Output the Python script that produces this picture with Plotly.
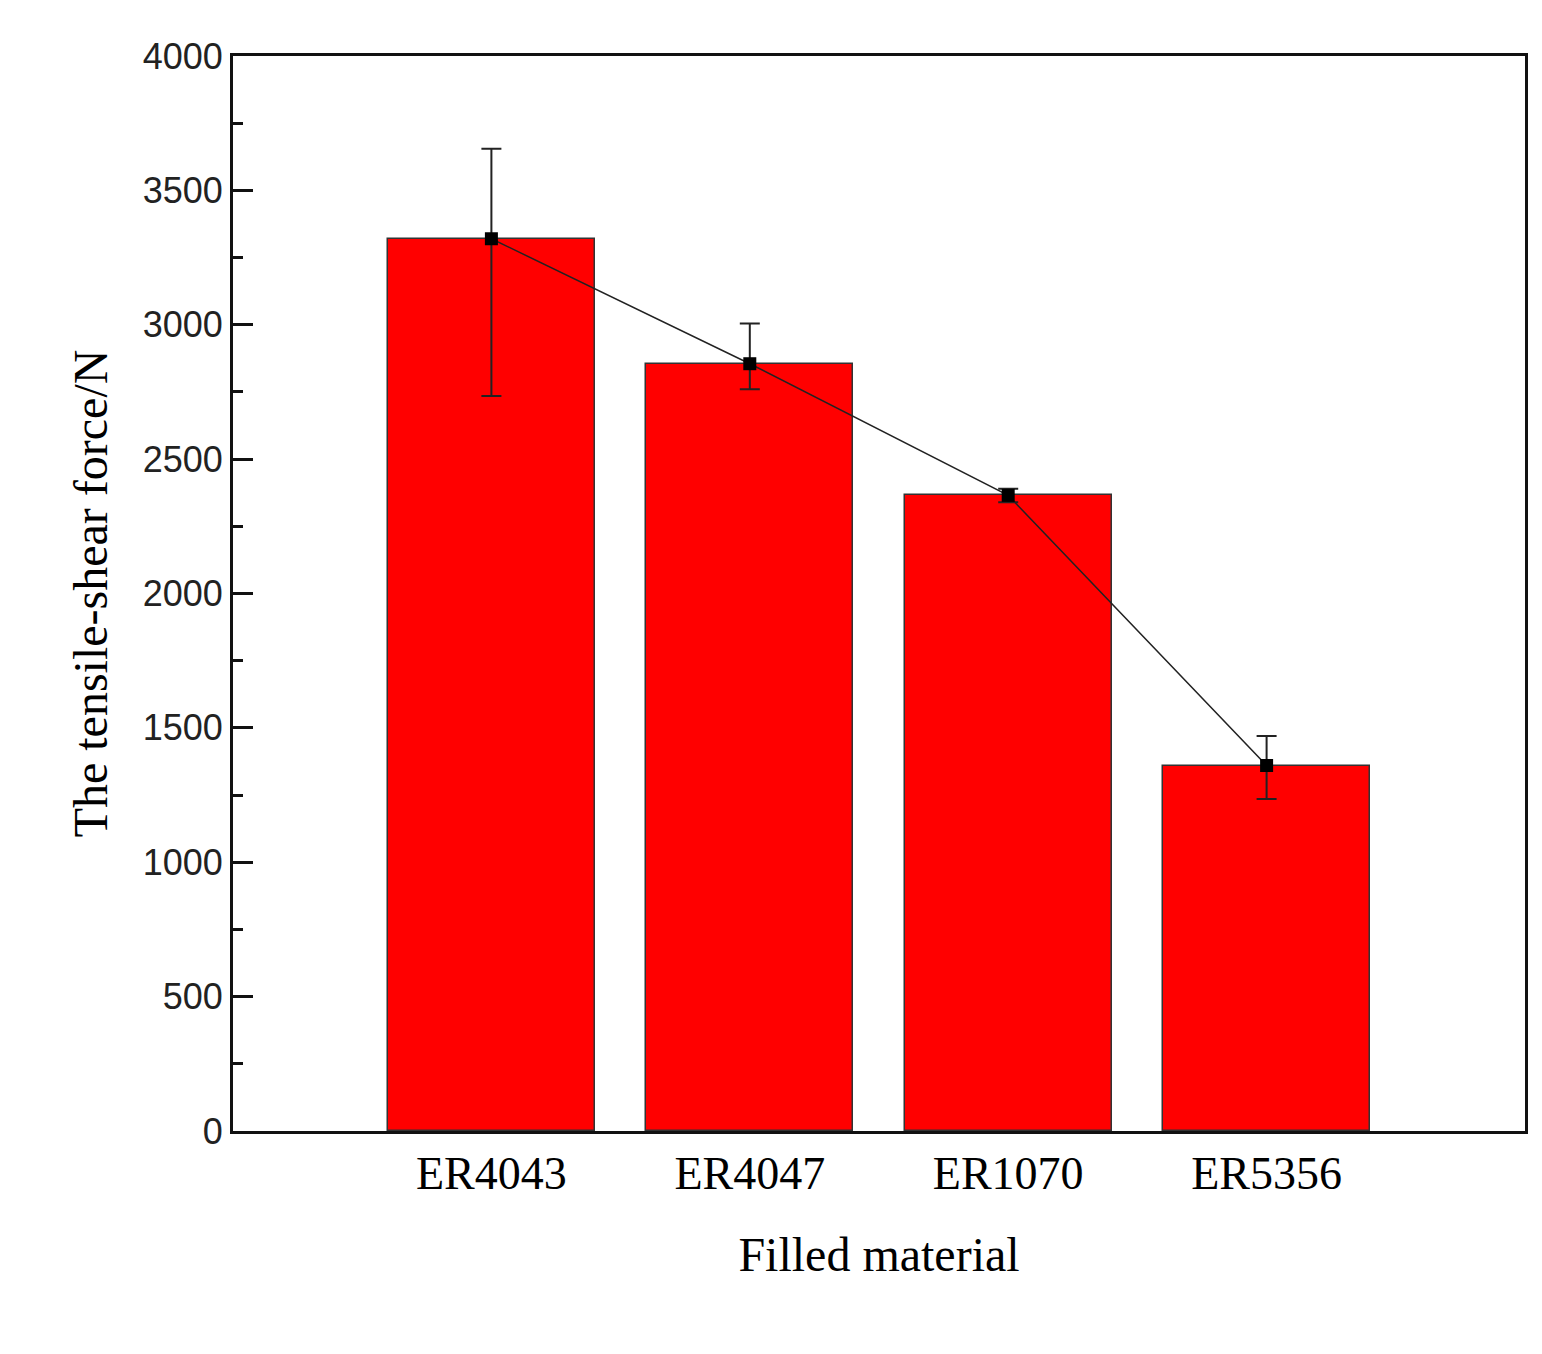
import plotly.graph_objects as go

materials = ["ER4043", "ER4047", "ER1070", "ER5356"]
positions = [1, 2, 3, 4]
force = [3320, 2855, 2365, 1360]
err_plus = [335, 150, 25, 110]
err_minus = [585, 95, 25, 125]

fig = go.Figure()
fig.add_trace(go.Bar(
    x=positions, y=force, width=0.8,
    marker=dict(color="#ff0000", line=dict(color="#333333", width=1.5)),
    showlegend=False,
))
fig.add_trace(go.Scatter(
    x=positions, y=force, mode="lines+markers",
    line=dict(color="#222222", width=1.5),
    marker=dict(symbol="square", size=13, color="black"),
    error_y=dict(type="data", symmetric=False, array=err_plus, arrayminus=err_minus,
                 color="#222222", thickness=2, width=10),
    showlegend=False,
))

fig.update_layout(
    width=1542, height=1354,
    margin=dict(l=225, r=25, t=48, b=231),
    plot_bgcolor="white", paper_bgcolor="white",
    bargap=0,
)
fig.update_xaxes(
    range=[0, 5], tickvals=positions, ticktext=materials,
    showline=True, linecolor="#111111", linewidth=3, mirror=True,
    ticks="", showgrid=False, zeroline=False,
    tickfont=dict(family="Liberation Serif", size=46, color="black"),
    title=dict(text="Filled material", standoff=40,
               font=dict(family="Liberation Serif", size=48, color="black")),
)
fig.update_yaxes(
    range=[0, 4000], dtick=500,
    showline=True, linecolor="#111111", linewidth=3, mirror=True,
    ticks="inside", ticklen=20, tickwidth=3, tickcolor="#111111",
    minor=dict(dtick=250, ticks="inside", ticklen=10, tickwidth=3, tickcolor="#111111"),
    showgrid=False, zeroline=False,
    tickfont=dict(family="Liberation Sans", size=36, color="#222222"),
    title=dict(text="The tensile-shear force/N", standoff=20,
               font=dict(family="Liberation Serif", size=48, color="black")),
)

fig.write_html("out.html")
